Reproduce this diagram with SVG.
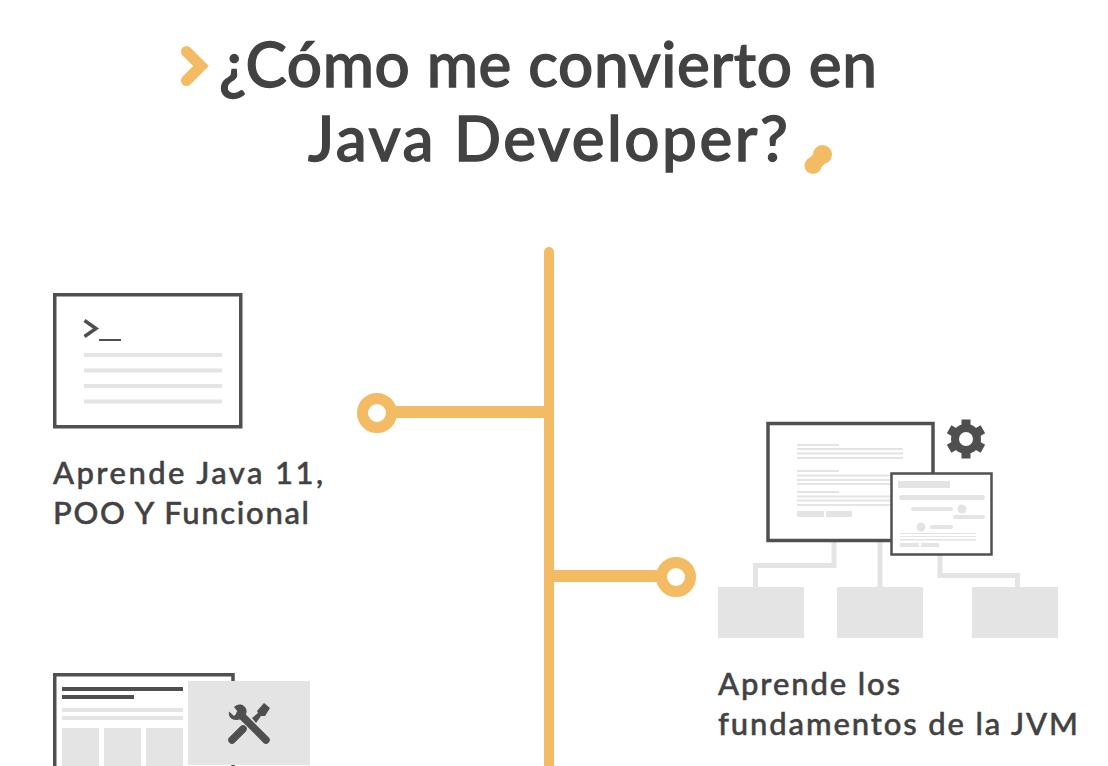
<svg xmlns="http://www.w3.org/2000/svg" width="1108" height="766" viewBox="0 0 1108 766">
<style>
text{font-family:"Lato","Open Sans","Liberation Sans",sans-serif;fill:#424242;font-weight:500;stroke:#424242}
.title{font-size:62px;stroke-width:1.300px}
.label{font-size:31px;stroke-width:.5px}
.frame{fill:#fff;stroke:#505050;stroke-width:3.500}
.g{fill:#e4e4e4}
.d{fill:#4f4f4f}
.y{fill:#f3bc64}
.lk{fill:none;stroke:#e4e4e4;stroke-width:5}
.tl{fill:none;stroke:#f3bc64;stroke-width:10;stroke-linecap:round}
.br{fill:none;stroke:#f3bc64;stroke-width:12}
.rg{fill:#fff;stroke:#f3bc64}
</style>
<rect width="1108" height="766" fill="#fff"/>
<g id="title">
<text class="title" x="219" y="87" textLength="658" lengthAdjust="spacing">¿Cómo me convierto en</text>
<text class="title" x="308" y="161" textLength="480" lengthAdjust="spacing">Java Developer?</text>
<path d="M186.500 51.500L201 66L186.500 80.500" fill="none" stroke="#f3bc64" stroke-width="11" stroke-linecap="round"/>
<path d="M813 165L823 155" fill="none" stroke="#f3bc64" stroke-width="15"/>
<circle class="y" cx="813" cy="165.500" r="8.500"/>
<circle class="y" cx="822.500" cy="154.500" r="9.500"/>
</g>
<g id="connectors">
<path class="tl" d="M549 252V771"/>
<path class="br" d="M390 412H549"/>
<path class="br" d="M549 576H660"/>
<circle class="rg" cx="377" cy="413" r="14.500" stroke-width="11"/>
<circle class="rg" cx="676" cy="577" r="14.500" stroke-width="11"/>
</g>
<g id="node-java">
<rect class="frame" x="54.750" y="294.750" width="186" height="132"/>
<path d="M84.500 320.500L96 328.500L84.500 336.500" fill="none" stroke="#4f4f4f" stroke-width="3.500"/>
<rect class="d" x="99" y="339" width="22" height="2"/>
<rect class="g" x="84" y="353" width="138" height="4"/>
<rect class="g" x="84" y="368.500" width="138" height="4"/>
<rect class="g" x="84" y="384" width="138" height="4"/>
<rect class="g" x="84" y="399.500" width="138" height="4"/>
<text class="label" x="53" y="484" textLength="270" lengthAdjust="spacing">Aprende Java 11,</text>
<text class="label" x="53" y="524" textLength="256" lengthAdjust="spacing">POO Y Funcional</text>
</g>
<g id="node-jvm">
<path class="lk" d="M834 541V565.500H755.500V587"/>
<path class="lk" d="M880 541V587"/>
<path class="lk" d="M940 555V575.500H1017.500V587"/>
<rect class="g" x="718" y="587" width="86" height="51"/>
<rect class="g" x="837" y="587" width="86" height="51"/>
<rect class="g" x="972" y="587" width="86" height="51"/>
<rect class="frame" x="768" y="423.500" width="165" height="117"/>
<rect class="g" x="797" y="444" width="42" height="2"/>
<rect class="g" x="797" y="448" width="106" height="2"/>
<rect class="g" x="797" y="452.500" width="106" height="2"/>
<rect class="g" x="797" y="457" width="106" height="2"/>
<rect class="g" x="797" y="470" width="42" height="2"/>
<rect class="g" x="797" y="474.500" width="106" height="2"/>
<rect class="g" x="797" y="479" width="106" height="2"/>
<rect class="g" x="797" y="483" width="106" height="2"/>
<rect class="g" x="797" y="491" width="42" height="2"/>
<rect class="g" x="797" y="495.500" width="106" height="2"/>
<rect class="g" x="797" y="499.500" width="106" height="2"/>
<rect class="g" x="797" y="504" width="106" height="2"/>
<rect class="g" x="797" y="511" width="27" height="6"/>
<rect class="g" x="826" y="511" width="26" height="6"/>
<rect x="891.500" y="473.500" width="100" height="81" fill="#fff" stroke="#505050" stroke-width="2.500"/>
<rect class="g" x="898" y="481" width="52" height="7"/>
<rect class="g" x="899" y="495" width="86" height="5" rx="2.500"/>
<rect class="g" x="911" y="507" width="42" height="4" rx="2"/>
<circle class="g" cx="962" cy="509" r="4.500"/>
<rect class="g" x="953" y="515" width="32" height="4" rx="2"/>
<circle class="g" cx="921" cy="527" r="4.500"/>
<rect class="g" x="930" y="525" width="23" height="4" rx="2"/>
<rect class="g" x="900" y="533" width="76" height="1"/>
<rect class="g" x="900" y="536" width="76" height="1"/>
<rect class="g" x="900" y="539" width="76" height="1.500"/>
<rect class="g" x="900" y="543" width="19" height="4"/>
<rect class="g" x="921" y="543" width="18" height="4"/>
<g transform="translate(966 439)">
<circle r="11" fill="none" stroke="#4f4f4f" stroke-width="8"/>
<rect class="d" x="-4.500" y="-19.500" width="9" height="8"/>
<rect class="d" x="-4.500" y="-19.500" width="9" height="8" transform="rotate(60)"/>
<rect class="d" x="-4.500" y="-19.500" width="9" height="8" transform="rotate(120)"/>
<rect class="d" x="-4.500" y="-19.500" width="9" height="8" transform="rotate(180)"/>
<rect class="d" x="-4.500" y="-19.500" width="9" height="8" transform="rotate(240)"/>
<rect class="d" x="-4.500" y="-19.500" width="9" height="8" transform="rotate(300)"/>
</g>
<text class="label" x="718" y="695" textLength="182" lengthAdjust="spacing">Aprende los</text>
<text class="label" x="718" y="735" textLength="360" lengthAdjust="spacing">fundamentos de la JVM</text>
</g>
<g id="node-tools">
<path d="M54.750 766V674.750H233V766" fill="#fff" stroke="#505050" stroke-width="3.500"/>
<rect class="d" x="62" y="687" width="121" height="4"/>
<rect class="d" x="62" y="695" width="72" height="4"/>
<rect class="g" x="62" y="708" width="121" height="4"/>
<rect class="g" x="62" y="716" width="121" height="4"/>
<rect class="g" x="62" y="728" width="37" height="38"/>
<rect class="g" x="104" y="728" width="37" height="38"/>
<rect class="g" x="146" y="728" width="37" height="38"/>
<rect class="g" x="188" y="681" width="122" height="84"/>
<path d="M240 714L266 740" fill="none" stroke="#4f4f4f" stroke-width="7.500" stroke-linecap="round"/>
<path d="M229 711.500L234 716L238 712L234 707C238 702.500 245 704 246.500 710C247.500 716 241 720.500 236 720C231 720 228 716 229 711.500Z" class="d"/>
<path d="M232 740L243 729" fill="none" stroke="#4f4f4f" stroke-width="7.500" stroke-linecap="round"/>
<path d="M252 718L258 713L257 711L264 703L270 708L265 716L261 716L256 723Z" class="d"/>
</g>
</svg>
